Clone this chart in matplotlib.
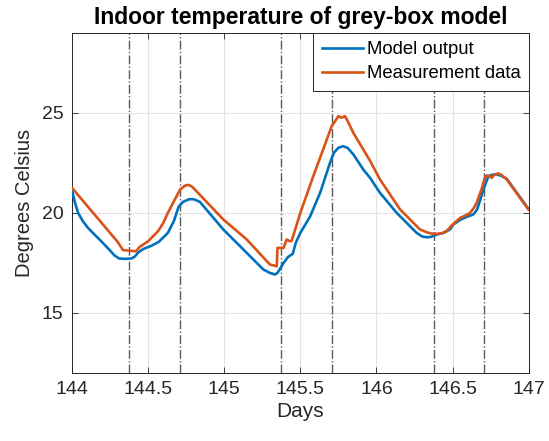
import matplotlib
matplotlib.use("Agg")
import matplotlib.pyplot as plt

plt.rcParams['font.family'] = ['Liberation Sans', 'DejaVu Sans']

# Data (days, degrees Celsius)
meas_days = [144.0, 144.1, 144.2, 144.3, 144.335, 144.42, 144.445, 144.5, 144.565,
             144.6, 144.63, 144.675, 144.71, 144.74, 144.765, 144.79, 144.84, 144.994,
             145.148, 145.30, 145.345, 145.35, 145.39, 145.41, 145.43, 145.443, 145.5,
             145.585, 145.65, 145.706, 145.73, 145.75, 145.77, 145.793, 145.81, 145.848,
             145.958, 146.023, 146.155, 146.286, 146.33, 146.36, 146.396, 146.43, 146.46,
             146.494, 146.52, 146.55, 146.58, 146.615, 146.64, 146.658, 146.69, 146.71,
             146.724, 146.745, 146.757, 146.775, 146.8, 146.82, 146.856, 146.998]
meas_temp = [21.25, 20.35, 19.45, 18.55, 18.14, 18.08, 18.3, 18.58, 19.08,
             19.5, 20.0, 20.66, 21.16, 21.35, 21.4, 21.3, 20.9, 19.67,
             18.67, 17.42, 17.33, 18.25, 18.25, 18.67, 18.58, 18.6, 20.0,
             21.83, 23.17, 24.33, 24.6, 24.83, 24.75, 24.83, 24.6, 24.0,
             22.6, 21.67, 20.17, 19.17, 19.03, 18.97, 18.95, 18.98, 19.08,
             19.37, 19.55, 19.75, 19.85, 20.0, 20.25, 20.5, 21.17, 21.7,
             21.87, 21.82, 21.75, 21.9, 21.97, 21.9, 21.67, 20.17]

model_days = [144.0, 144.02, 144.04, 144.07, 144.105, 144.15, 144.19, 144.24, 144.28,
              144.31, 144.35, 144.39, 144.41, 144.44, 144.47, 144.52, 144.57, 144.63,
              144.67, 144.70, 144.73, 144.77, 144.80, 144.84, 144.994, 145.148, 145.257,
              145.30, 145.333, 145.35, 145.39, 145.42, 145.45, 145.47, 145.5, 145.563,
              145.63, 145.695, 145.72, 145.75, 145.78, 145.81, 145.85, 145.913, 145.958,
              146.023, 146.133, 146.264, 146.30, 146.33, 146.36, 146.396, 146.44, 146.483,
              146.505, 146.55, 146.593, 146.636, 146.66, 146.68, 146.703, 146.735, 146.76,
              146.79, 146.82, 146.856, 146.998]
model_temp = [21.13, 20.5, 20.0, 19.6, 19.25, 18.9, 18.6, 18.2, 17.87,
              17.72, 17.7, 17.72, 17.8, 18.05, 18.2, 18.35, 18.55, 19.0,
              19.6, 20.3, 20.55, 20.68, 20.68, 20.55, 19.17, 18.0, 17.17,
              17.0, 16.92, 17.0, 17.5, 17.8, 17.95, 18.5, 19.0, 19.8,
              21.0, 22.5, 23.0, 23.25, 23.33, 23.25, 22.9, 22.17, 21.75,
              21.0, 20.0, 19.0, 18.82, 18.78, 18.8, 18.92, 19.0, 19.17,
              19.42, 19.65, 19.8, 19.92, 20.15, 20.6, 21.17, 21.83, 21.9,
              21.92, 21.85, 21.7, 20.2]

event_days = [144.375, 144.708, 145.375, 145.708, 146.375, 146.708]
x_ticks = [144, 144.5, 145, 145.5, 146, 146.5, 147]
x_ticklabels = ['144', '144.5', '145', '145.5', '146', '146.5', '147']
y_ticks = [15, 20, 25]

fig = plt.figure(figsize=(5.49, 4.41), dpi=100)
ax = fig.add_axes([0.1311, 0.1542, 0.963 - 0.1311, 0.9259 - 0.1542])

ax.plot(model_days, model_temp, color='#0072BD', lw=1.9, label='Model output', zorder=3)
ax.plot(meas_days, meas_temp, color='#D95319', lw=1.9, label='Measurement data', zorder=3)
for d in event_days:
    ax.axvline(d, color='#5a5a5a', lw=1.0, ls='-.', zorder=2)

ax.set_xlim(144, 147)
ax.set_ylim(12, 29)
ax.set_xticks(x_ticks)
ax.set_xticklabels(x_ticklabels)
ax.set_yticks(y_ticks)
ax.grid(True, color='#e3e3e3', lw=0.8, zorder=0)
ax.set_axisbelow(True)
ax.tick_params(direction='in', top=True, right=True, length=4, width=0.6,
               colors='#262626', labelsize=14, pad=6)
for s in ax.spines.values():
    s.set_color('#262626')
    s.set_linewidth(0.7)

ax.set_title('Indoor temperature of grey-box model', fontsize=16.5, fontweight='bold', pad=6.5)
ax.set_xlabel('Days', fontsize=15, color='#262626', labelpad=3)
ax.set_ylabel('Degrees Celsius', fontsize=14.5, color='#262626', labelpad=6)

leg = ax.legend(loc='upper right', fontsize=13.3, fancybox=False, framealpha=1,
                edgecolor='#262626', borderaxespad=0, handlelength=2.25,
                handletextpad=0.18, borderpad=0.45, labelspacing=0.4)
leg.get_frame().set_linewidth(0.7)

fig.savefig('out.png', dpi=100)
